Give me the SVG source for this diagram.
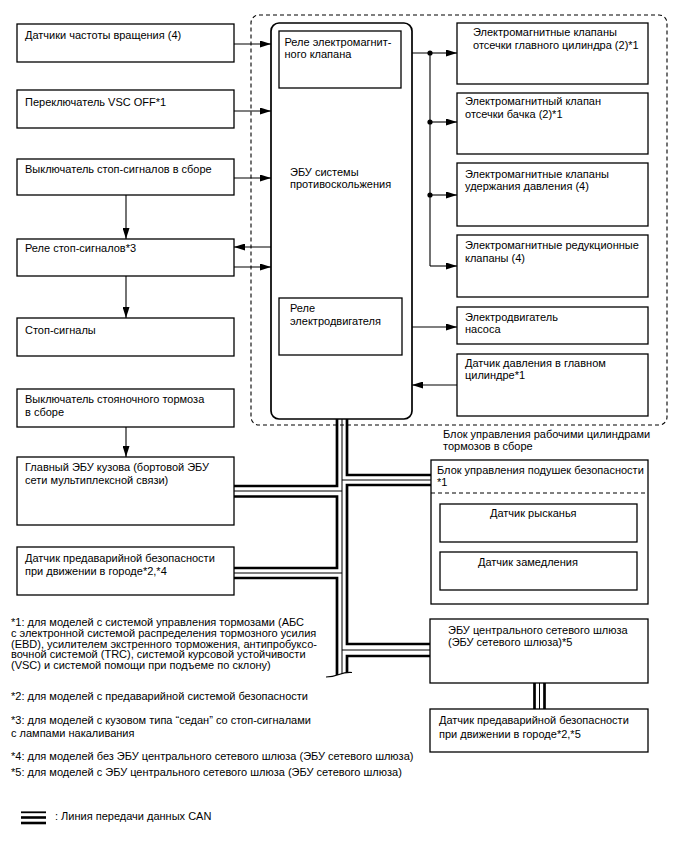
<svg xmlns="http://www.w3.org/2000/svg" width="688" height="852" viewBox="0 0 688 852">
<style>
text{font-family:"Liberation Sans",Arial,sans-serif;font-size:11px;fill:#000}
.box{fill:#fff;stroke:#000;stroke-width:1.3}
.ecu{fill:#fff;stroke:#000;stroke-width:1.7}
.dash{fill:none;stroke:#000;stroke-width:1.1;stroke-dasharray:4 3}
.ln{fill:none;stroke:#000;stroke-width:1.1}
.arr{fill:none;stroke:#000;stroke-width:1.1;marker-end:url(#ah)}
.thk{fill:none;stroke:#000;stroke-width:2.7;stroke-linejoin:miter}
.thn{fill:none;stroke:#000;stroke-width:1}
</style>
<defs>
<marker id="ah" viewBox="0 0 11 7" refX="11" refY="3.5" markerWidth="11" markerHeight="7" markerUnits="userSpaceOnUse" orient="auto">
<path d="M0,0 L11,3.5 L0,7 Z" fill="#000"/>
</marker>
</defs>
<rect width="688" height="852" fill="#fff"/>

<rect id="brake-actuator-frame" class="dash" x="251" y="15" width="416" height="410" rx="8"/>

<g id="connectors">
<path class="arr" d="M234,44 H271"/>
<path class="arr" d="M234,111 H271"/>
<path class="arr" d="M234,178 H271"/>
<path class="arr" d="M271,247 H234"/>
<path class="arr" d="M234,267 H271"/>
<path class="arr" d="M126,195 V239"/>
<path class="arr" d="M126,276 V318"/>
<path class="arr" d="M126,427 V457"/>
<path class="ln" d="M412,53 H430 V266"/>
<path class="arr" d="M430,53 H457"/>
<path class="arr" d="M430,122 H457"/>
<path class="arr" d="M430,195 H457"/>
<path class="arr" d="M430,266 H457"/>
<circle cx="430" cy="53" r="2.6"/>
<circle cx="430" cy="122" r="2.6"/>
<circle cx="430" cy="195" r="2.6"/>
<path class="arr" d="M402,327 H457"/>
<path class="arr" d="M457,385 H412"/>
<!-- CAN bus -->
<path class="thk" d="M337,419 V486 H234"/>
<path class="thk" d="M234,496.5 H337 V568 H234"/>
<path class="thk" d="M234,578 H337 V675"/>
<path class="thk" d="M347,419 V475 H431"/>
<path class="thk" d="M431,485 H347 V644 H430"/>
<path class="thk" d="M430,656 H347 V673"/>
<path class="thn" d="M342,419 V674"/>
<path class="thn" d="M342,480 H431"/>
<path class="thn" d="M342,491 H234"/>
<path class="thn" d="M342,573 H234"/>
<path class="thn" d="M342,650 H430"/>
<path class="ln" d="M326,677 C332,677 335,676 339,674.5 C343,673 346,672 352,672.5"/>
<path class="thk" d="M534.5,683 V709"/>
<path class="thn" d="M539.5,683 V709"/>
<path class="thk" d="M544.5,683 V709"/>
</g>

<g id="n-speed-sensors"><rect class="box" x="17" y="24" width="217" height="38"/><text x="25" y="39">Датчики частоты вращения (4)</text></g>
<g id="n-vsc-off"><rect class="box" x="17" y="90" width="217" height="38"/><text x="25" y="105.5">Переключатель VSC OFF*1</text></g>
<g id="n-stop-switch"><rect class="box" x="17" y="159" width="217" height="36"/><text x="25" y="173">Выключатель стоп-сигналов в сборе</text></g>
<g id="n-stop-relay"><rect class="box" x="17" y="239" width="217" height="37"/><text x="25" y="252">Реле стоп-сигналов*3</text></g>
<g id="n-stop-lamps"><rect class="box" x="17" y="318" width="217" height="38"/><text x="25" y="334">Стоп-сигналы</text></g>
<g id="n-parking-switch"><rect class="box" x="17" y="389" width="217" height="38"/><text x="25" y="403">Выключатель стояночного тормоза</text><text x="25" y="415.5">в сборе</text></g>
<g id="n-main-body-ecu"><rect class="box" x="17" y="457" width="217" height="68"/><text x="25" y="470.5">Главный ЭБУ кузова (бортовой ЭБУ</text><text x="25" y="483.5">сети мультиплексной связи)</text></g>
<g id="n-pcs-sensor-4"><rect class="box" x="17" y="547" width="217" height="48"/><text x="25" y="562">Датчик предаварийной безопасности</text><text x="25" y="575">при движении в городе*2,*4</text></g>

<g id="n-skid-ecu">
<rect class="ecu" x="271" y="23" width="141" height="396" rx="8"/>
<text x="290" y="176">ЭБУ системы</text><text x="290" y="188">противоскольжения</text>
</g>
<g id="n-solenoid-relay"><rect class="box" x="279" y="31" width="122" height="57"/><text x="284.5" y="45.5">Реле электромагнит-</text><text x="284.5" y="58">ного клапана</text></g>
<g id="n-motor-relay"><rect class="box" x="279" y="298" width="123" height="57"/><text x="290" y="312">Реле</text><text x="290" y="325">электродвигателя</text></g>

<g id="n-master-cut"><rect class="box" x="457" y="23" width="191" height="61"/><text x="473" y="36">Электромагнитные клапаны</text><text x="473" y="48.7">отсечки главного цилиндра (2)*1</text></g>
<g id="n-reservoir-cut"><rect class="box" x="457" y="93" width="191" height="61"/><text x="465" y="104.7">Электромагнитный клапан</text><text x="465" y="117.7">отсечки бачка (2)*1</text></g>
<g id="n-hold"><rect class="box" x="457" y="163" width="191" height="63"/><text x="465" y="178">Электромагнитные клапаны</text><text x="465" y="190">удержания давления (4)</text></g>
<g id="n-reduction"><rect class="box" x="457" y="235" width="191" height="62"/><text x="465" y="248.7">Электромагнитные редукционные</text><text x="465" y="261.7">клапаны (4)</text></g>
<g id="n-pump-motor"><rect class="box" x="457" y="307" width="191" height="37"/><text x="465" y="320.5">Электродвигатель</text><text x="465" y="333">насоса</text></g>
<g id="n-pressure-sensor"><rect class="box" x="457" y="354" width="191" height="62"/><text x="465" y="366.5">Датчик давления в главном</text><text x="465" y="378.7">цилиндре*1</text></g>

<g id="l-actuator"><text x="443" y="438">Блок управления рабочими цилиндрами</text><text x="443" y="450">тормозов в сборе</text></g>

<g id="n-airbag">
<rect class="box" x="431" y="460" width="217" height="144"/>
<text x="437" y="474">Блок управления подушек безопасности</text><text x="437" y="485.5">*1</text>
<path class="dash" d="M431,493 H648"/>
</g>
<g id="n-yaw"><rect class="box" x="440" y="504" width="197" height="38"/><text x="490" y="517">Датчик рысканья</text></g>
<g id="n-decel"><rect class="box" x="440" y="552" width="197" height="38"/><text x="478" y="565.5">Датчик замедления</text></g>
<g id="n-gateway"><rect class="box" x="430" y="619" width="218" height="64"/><text x="448" y="634">ЭБУ центрального сетевого шлюза</text><text x="448" y="646">(ЭБУ сетевого шлюза)*5</text></g>
<g id="n-pcs-sensor-5"><rect class="box" x="430" y="709" width="218" height="43"/><text x="439" y="724">Датчик предаварийной безопасности</text><text x="439" y="738">при движении в городе*2,*5</text></g>

<g id="notes">
<text x="11" y="626">*1: для моделей с системой управления тормозами (АБС</text>
<text x="11" y="636.8">с электронной системой распределения тормозного усилия</text>
<text x="11" y="647.5">(EBD), усилителем экстренного торможения, антипробуксо-</text>
<text x="11" y="658.3">вочной системой (TRC), системой курсовой устойчивости</text>
<text x="11" y="669">(VSC) и системой помощи при подъеме по склону)</text>
<text x="11" y="700">*2: для моделей с предаварийной системой безопасности</text>
<text x="11" y="724">*3: для моделей с кузовом типа “седан” со стоп-сигналами</text>
<text x="11" y="737">с лампами накаливания</text>
<text x="11" y="760">*4: для моделей без ЭБУ центрального сетевого шлюза (ЭБУ сетевого шлюза)</text>
<text x="11" y="776">*5: для моделей с ЭБУ центрального сетевого шлюза (ЭБУ сетевого шлюза)</text>
</g>
<g id="legend">
<path d="M21,812.3 H46" stroke="#000" stroke-width="1.8"/>
<path d="M21,817.5 H46" stroke="#000" stroke-width="2.6"/>
<path d="M21,823 H46" stroke="#000" stroke-width="2.6"/>
<text x="55" y="820">: Линия передачи данных CAN</text>
</g>
</svg>
